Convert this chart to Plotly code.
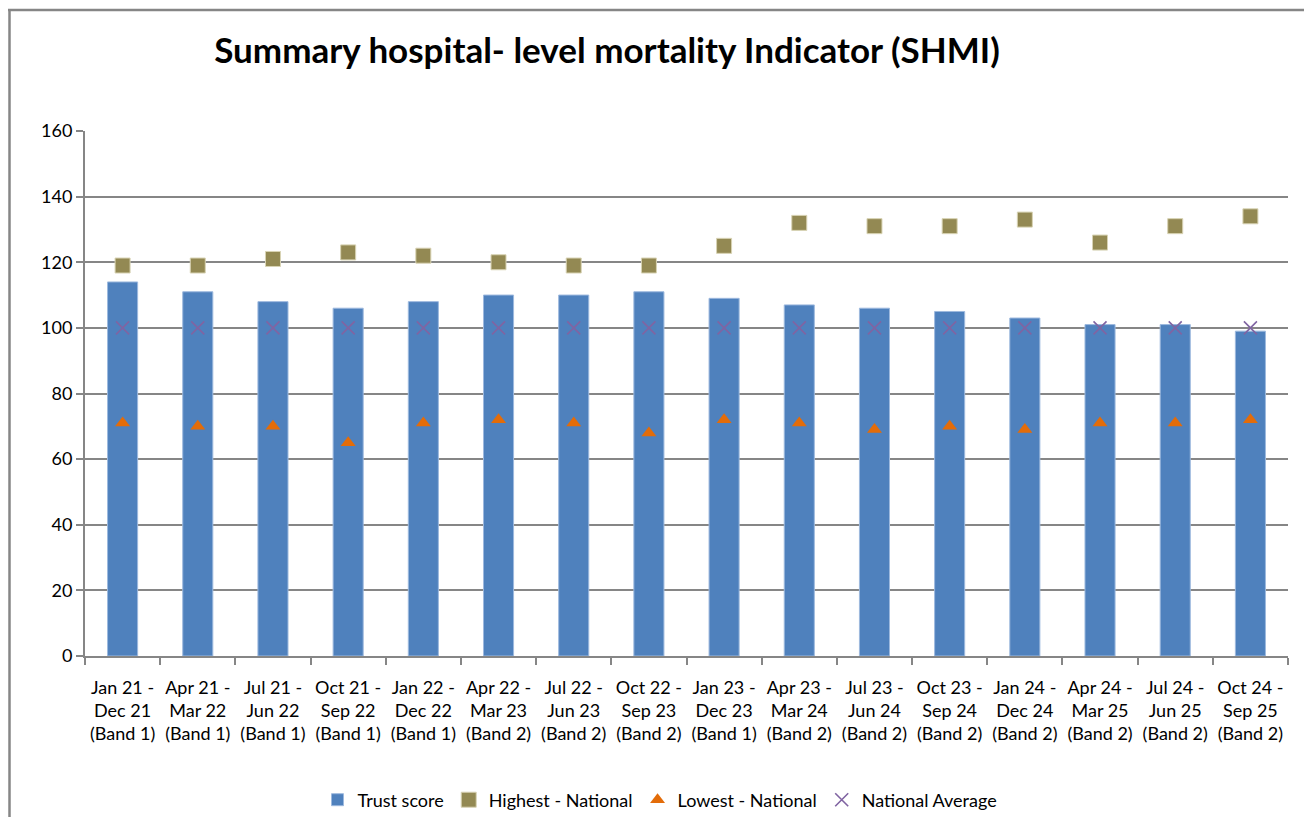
import plotly.graph_objects as go

periods = ["Jan 21 -<br>Dec 21<br>(Band 1)", "Apr 21 -<br>Mar 22<br>(Band 1)", "Jul 21 -<br>Jun 22<br>(Band 1)",
           "Oct 21 -<br>Sep 22<br>(Band 1)", "Jan 22 -<br>Dec 22<br>(Band 1)", "Apr 22 -<br>Mar 23<br>(Band 2)",
           "Jul 22 -<br>Jun 23<br>(Band 2)", "Oct 22 -<br>Sep 23<br>(Band 2)", "Jan 23 -<br>Dec 23<br>(Band 1)",
           "Apr 23 -<br>Mar 24<br>(Band 2)", "Jul 23 -<br>Jun 24<br>(Band 2)", "Oct 23 -<br>Sep 24<br>(Band 2)",
           "Jan 24 -<br>Dec 24<br>(Band 2)", "Apr 24 -<br>Mar 25<br>(Band 2)", "Jul 24 -<br>Jun 25<br>(Band 2)",
           "Oct 24 -<br>Sep 25<br>(Band 2)"]
trust_score = [114, 111, 108, 106, 108, 110, 110, 111, 109, 107, 106, 105, 103, 101, 101, 99]
highest_national = [119, 119, 121, 123, 122, 120, 119, 119, 125, 132, 131, 131, 133, 126, 131, 134]
lowest_national = [71, 70, 70, 65, 71, 72, 71, 68, 72, 71, 69, 70, 69, 71, 71, 72]
national_average = [100] * 16
y_ticks = [0, 20, 40, 60, 80, 100, 120, 140, 160]

# page offset (browser body margin)
OX, OY = 8, 8
W, H = 1312, 817
# target plot area in page coords
PX0, PX1, PY0, PY1 = 85, 1288, 131, 656
ml = PX0 - OX
mt = PY0 - OY
mr = (W + OX) - PX1
mb = (H + OY) - PY1
pw, ph = PX1 - PX0, PY1 - PY0

def px(x):  # page x -> paper
    return (x - PX0) / pw

def py(y):  # page y -> paper
    return (PY1 - y) / ph

FONT = "Lato, Carlito, Calibri, sans-serif"

fig = go.Figure()
fig.add_trace(go.Bar(x=periods, y=trust_score, name="Trust score", width=0.4,
                     marker=dict(color="#4F81BD", line=dict(color="#9DB9DE", width=1))))
fig.add_trace(go.Scatter(x=periods, y=highest_national, name="Highest - National", mode="markers",
                         marker=dict(symbol="square", size=15, color="#938953",
                                     line=dict(color="#D8D3B4", width=1))))
fig.add_trace(go.Scatter(x=periods, y=lowest_national, name="Lowest - National", mode="markers",
                         marker=dict(symbol="triangle-up", size=13, color="#E36C09")))
fig.add_trace(go.Scatter(x=periods, y=national_average, name="National Average", mode="markers",
                         marker=dict(symbol="x-thin-open", size=13, color="#8064A2",
                                     line=dict(color="#8064A2", width=1.6))))

border = dict(color="#868686", width=2.5)
fig.update_layout(
    width=W, height=H,
    margin=dict(l=ml, r=mr, t=mt, b=mb, autoexpand=False),
    paper_bgcolor="white", plot_bgcolor="white",
    font=dict(family=FONT, size=18, color="#000000"),
    title=dict(text="<b>Summary hospital- level mortality Indicator (SHMI)</b>",
               x=(607 - OX) / W, xref="container", xanchor="center",
               y=1 - (51 - OY) / H, yref="container", yanchor="middle",
               font=dict(family=FONT, size=35, color="#000000")),
    showlegend=True,
    legend=dict(orientation="h", x=px(660), xref="paper", xanchor="center",
                y=py(800), yref="paper", yanchor="middle",
                font=dict(family=FONT, size=18), itemwidth=30, traceorder="normal"),
    xaxis=dict(range=[-0.5, 15.5], showgrid=False, showline=True, linecolor="#868686", linewidth=2,
               ticks="outside", tickson="boundaries", ticklen=7, tickcolor="#868686", tickwidth=1.5,
               tickfont=dict(family=FONT, size=18), tickangle=0, automargin=False,
               ticklabelstandoff=14),
    yaxis=dict(range=[0, 160], tickvals=y_ticks, showgrid=True, gridcolor="#868686", gridwidth=2,
               showline=True, linecolor="#868686", linewidth=2, zeroline=False,
               ticks="outside", ticklen=7, tickcolor="#868686", tickwidth=1.5,
               tickfont=dict(family=FONT, size=18), automargin=False),
    shapes=[
        dict(type="rect", xref="paper", yref="paper", x0=px(3), x1=px(1330),
             y0=py(840), y1=py(10), line=border, layer="below"),
        dict(type="line", xref="paper", yref="paper", x0=px(9.5), x1=px(9.5),
             y0=py(10), y1=py(840), line=border, layer="above"),
    ],
)

fig.write_html("out.html")
